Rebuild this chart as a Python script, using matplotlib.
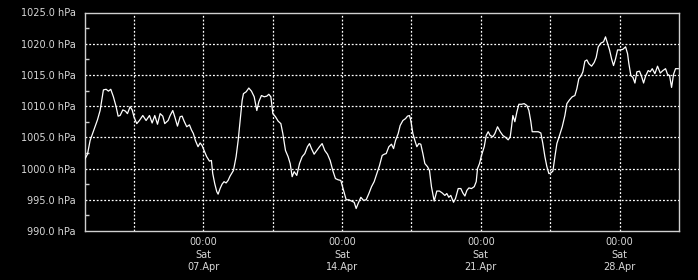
import matplotlib
matplotlib.use("Agg")
import matplotlib.pyplot as plt
from matplotlib.ticker import MultipleLocator, FixedLocator, FuncFormatter
import numpy as np

# hours since Sun 01.Apr 00:00
hours = [0, 3.6, 6.8, 10.0, 12.8, 15.7, 18.9, 20.9, 22.9, 26.2, 29.0, 31.8, 35.0, 38.3,
         40.7, 43.1, 46.4, 49.6, 52.0, 55.2, 57.7, 60.1, 63.3, 66.5, 70.6, 74.6, 78.7,
         81.9, 85.1, 88.4, 91.6, 94.8, 97.2, 101.3, 103.7, 106.9, 109.3, 112.6, 115.8,
         118.2, 120.6, 123.8, 127.1, 129.5, 131.9, 134.3, 137.5, 140.0, 142.4, 144.8,
         148.0, 151.3, 153.7, 155.3, 157.7, 160.2, 161.8, 164.2, 166.6, 169.0, 171.5,
         173.9, 176.3, 180.4, 183.6, 186.1, 188.5, 190.9, 192.5, 195.8, 199.0, 202.2,
         205.5, 208.7, 211.1, 214.3, 217.6, 220.8, 223.2, 225.7, 228.1, 231.3, 234.5,
         237.8, 240.2, 243.4, 246.6, 249.1, 251.5, 253.9, 257.1, 260.4, 263.6, 266.8,
         270.0, 272.5, 274.9, 278.1, 281.4, 284.6, 287.8, 291.0, 294.3, 297.5, 300.7,
         303.9, 307.2, 310.4, 313.7, 316.9, 320.1, 323.4, 326.6, 329.0, 331.4, 334.7,
         337.9, 341.1, 344.4, 347.6, 350.8, 354.1, 357.3, 360.5, 363.0, 365.4, 368.6,
         371.8, 374.3, 376.7, 379.9, 382.3, 385.6, 388.8, 391.2, 393.6, 395.2, 397.7,
         400.1, 402.5, 404.9, 407.3, 409.8, 412.2, 415.4, 417.8, 420.2, 423.5, 426.7,
         429.9, 433.2, 436.4, 438.8, 441.2, 443.6, 446.9, 449.3, 452.6, 455.8, 458.2,
         460.7, 463.1, 465.5, 468.7, 472.0, 474.4, 476.0, 478.4, 480.8, 484.1, 486.5,
         488.9, 491.3, 494.6, 497.0, 500.2, 503.5, 506.7, 509.9, 513.1, 515.6, 517.2,
         518.8, 521.2, 523.7, 526.1, 529.3, 532.5, 535.8, 538.2, 540.6, 542.2, 546.3,
         549.5, 552.7, 555.1, 557.6, 560.0, 562.4, 564.8, 567.3, 569.7, 572.1, 575.3,
         578.6, 581.8, 584.2, 587.4, 590.7, 593.9, 596.3, 598.7, 601.2, 603.6, 606.0,
         608.4, 610.8, 614.1, 617.3, 619.7, 622.2, 625.4, 628.6, 631.0, 633.5, 635.9,
         638.3, 640.7, 643.2, 645.6, 648.8, 652.0, 655.3, 657.7, 659.3, 661.7, 664.2,
         666.6, 669.0, 672.2, 674.6, 677.1, 679.5, 682.7, 685.1, 687.6, 690.8, 694.0,
         697.3, 700.5, 703.7, 706.1, 708.6, 711.0, 713.4, 715.8, 719.1]

pressure = [1001.4, 1002.3, 1004.5, 1005.7, 1006.7, 1007.8, 1009.3, 1010.9, 1012.6, 1012.7,
            1012.4, 1012.7, 1011.5, 1009.9, 1008.4, 1008.5, 1009.4, 1009.2, 1008.8, 1009.9,
            1009.4, 1008.2, 1007.2, 1007.7, 1008.5, 1007.7, 1008.5, 1007.3, 1008.5, 1007.1,
            1008.8, 1008.4, 1007.2, 1007.7, 1008.5, 1009.3, 1008.3, 1006.8, 1008.3, 1008.4,
            1007.6, 1006.7, 1007.0, 1006.2, 1005.6, 1004.5, 1003.5, 1004.1, 1003.7, 1002.9,
            1001.9, 1001.2, 1001.3, 999.2, 997.6, 996.3, 995.9, 996.8, 997.5, 997.9,
            997.7, 998.1, 998.8, 999.7, 1001.9, 1004.5, 1007.7, 1010.9, 1012.0, 1012.3,
            1012.9, 1012.4, 1011.5, 1009.3, 1010.7, 1011.7, 1011.5, 1011.6, 1011.9, 1011.5,
            1008.8, 1008.3, 1007.6, 1007.2, 1005.6, 1002.9, 1001.9, 1000.8, 998.7, 999.5,
            998.9, 1000.8, 1001.9, 1002.4, 1003.5, 1004.0, 1003.2, 1002.3, 1002.9, 1003.5,
            1004.0, 1002.9, 1002.3, 1001.3, 999.7, 998.4, 998.2, 998.1, 996.5, 995.0,
            995.0, 994.8, 994.6, 993.6, 994.4, 995.4, 994.9, 995.0, 996.0, 997.1,
            997.9, 999.2, 1000.5, 1002.1, 1002.3, 1002.4, 1003.5, 1003.9, 1003.2, 1004.5,
            1005.6, 1006.9, 1007.7, 1008.0, 1008.4, 1008.5, 1007.7, 1005.6, 1004.5, 1003.5,
            1004.0, 1003.9, 1002.4, 1000.8, 1000.3, 999.7, 997.1, 994.8, 996.4, 996.4,
            996.1, 995.7, 996.0, 995.4, 995.7, 994.6, 995.2, 996.8, 996.8, 996.1,
            995.6, 996.5, 996.9, 996.8, 997.1, 997.9, 1000.0, 1000.8, 1002.1, 1003.5,
            1005.3, 1005.9, 1005.3, 1005.1, 1005.6, 1006.7, 1005.9, 1005.3, 1005.0, 1004.6,
            1005.1, 1006.7, 1008.5, 1007.5, 1009.1, 1010.3, 1010.3, 1010.4, 1010.1, 1009.3,
            1007.5, 1005.9, 1005.9, 1005.9, 1005.7, 1004.0, 1001.9, 1000.3, 999.2, 999.3,
            999.6, 1001.9, 1004.0, 1005.3, 1006.7, 1008.5, 1010.4, 1011.0, 1011.5, 1011.7,
            1012.8, 1014.4, 1014.8, 1015.5, 1017.2, 1017.4, 1016.8, 1016.4, 1017.0, 1017.8,
            1019.5, 1020.1, 1020.3, 1021.1, 1020.0, 1019.0, 1017.6, 1016.5, 1017.6, 1019.0,
            1019.0, 1019.1, 1019.5, 1018.4, 1016.8, 1014.9, 1014.6, 1013.7, 1015.5, 1015.6,
            1014.8, 1013.7, 1014.8, 1015.7, 1015.5, 1016.0, 1015.2, 1016.4, 1015.3, 1015.7,
            1016.0, 1015.1, 1014.9, 1013.0, 1015.1, 1016.0, 1016.0]

x_tick_hours = [144, 312, 480, 648]
x_tick_labels = ["00:00\nSat\n07.Apr", "00:00\nSat\n14.Apr", "00:00\nSat\n21.Apr", "00:00\nSat\n28.Apr"]
x_grid_hours = [60, 144, 228, 312, 396, 480, 564, 648]
y_min, y_max = 990, 1025

fig = plt.figure(figsize=(6.98, 2.8), dpi=100, facecolor="black")
ax = fig.add_axes([84.5 / 698, 1 - 231 / 280, (679 - 84.5) / 698, (231 - 12.5) / 280])
ax.set_facecolor("black")

ax.plot(hours, pressure, color="white", lw=0.9, antialiased=True, zorder=3)

ax.set_xlim(0, 720)
ax.set_ylim(y_min, y_max)

ax.yaxis.set_major_locator(MultipleLocator(5))
ax.yaxis.set_minor_locator(MultipleLocator(2.5))
ax.yaxis.set_major_formatter(FuncFormatter(lambda v, p: f"{v:.1f} hPa"))

ax.xaxis.set_major_locator(FixedLocator(x_tick_hours))
ax.set_xticklabels(x_tick_labels)
ax.xaxis.set_minor_locator(FixedLocator(x_grid_hours))

ax.grid(False)
for g in x_grid_hours:
    ax.axvline(g, color="white", lw=0.9, dashes=(1.5, 1.5), zorder=2)
for v in range(995, 1025, 5):
    ax.axhline(v, color="white", lw=0.9, dashes=(1.5, 1.5), zorder=2)

for s in ax.spines.values():
    s.set_color("#cfcfcf")
    s.set_linewidth(1.0)

ax.tick_params(axis="y", which="major", length=0, pad=6.5, labelsize=7, labelcolor="#d8d8d8")
ax.tick_params(axis="y", which="minor", direction="in", length=3, color="#cfcfcf", width=1)
ax.tick_params(axis="x", which="major", length=0, pad=4.5, labelsize=7, labelcolor="#d8d8d8")
ax.tick_params(axis="x", which="minor", length=0)
for lab in ax.get_xticklabels():
    lab.set_linespacing(1.3)

fig.savefig("out.png", dpi=100, facecolor="black")
